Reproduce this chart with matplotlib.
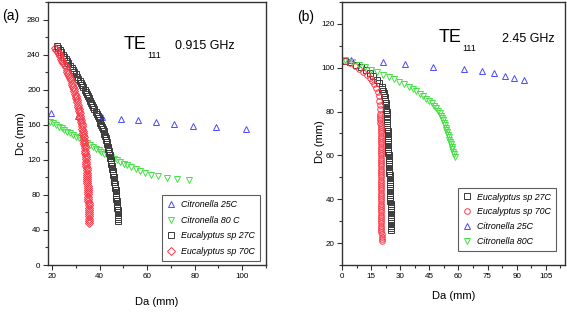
import matplotlib
matplotlib.use("Agg")
import matplotlib.pyplot as plt
from matplotlib import font_manager

# pick a narrow font if we have one
names = set(f.name for f in font_manager.fontManager.ttflist)
if "Liberation Sans Narrow" in names:
    FONT = "Liberation Sans Narrow"
else:
    FONT = "Liberation Sans"
plt.rcParams["font.family"] = [FONT, "DejaVu Sans"]

# ---- panel (a) 0.915 GHz ----
a_cit25_da = [19.5, 31.1, 40.9, 48.9, 56.3, 63.7, 71.2, 79.5, 89.1, 101.4]
a_cit25_dc = [173, 170, 169, 167, 165, 163, 161, 159, 157, 155]

a_cit80_da = [19.2, 20.4, 21.6, 22.8, 24.0, 25.2, 26.4, 27.6, 28.8, 30.0, 31.2, 32.4,
              33.6, 34.8, 36.0, 37.2, 38.4, 39.6, 40.8, 42.0, 43.3, 44.6, 45.9, 47.2,
              48.6, 50.1, 51.7, 53.4, 55.2, 57.1, 59.2, 61.7, 64.6, 68.2, 72.6, 77.7]
a_cit80_dc = [163.5, 161.6, 159.7, 157.8, 155.9, 154.0, 152.1, 150.2, 148.3, 146.4, 144.5, 142.6,
              140.7, 138.8, 136.8, 134.8, 132.8, 130.8, 128.9, 127.1, 125.2, 123.3, 121.4, 119.5,
              117.6, 115.6, 113.6, 111.5, 109.3, 107.2, 105.1, 103.2, 101.5, 99.8, 98.3, 97.0]

a_euc27_dc = [250, 247.5, 245, 242.5, 240, 237.5, 235, 232.5, 230, 227.5, 225, 222.5, 220, 217.5,
              215, 212.5, 210, 207.5, 205, 202.5, 200, 197.5, 195, 192.5, 190, 187.5, 185, 182.5,
              180, 177.5, 175, 172.5, 170, 167.5, 165, 162.5, 160, 157.5, 155, 152.5, 150, 147.5,
              145, 142.5, 140, 137.5, 135, 132.5, 130, 127.5, 125, 122.5, 120, 117.5, 115, 112.5,
              110, 107.5, 105, 102.5, 100, 97.5, 95, 92.5, 90, 87.5, 85, 82.5, 80, 77.5,
              75, 72.5, 70, 67.5, 65, 62.5, 60, 57.5, 55, 52.5, 50]
a_euc27_da = [22.1, 22.7, 23.3, 23.9, 24.5, 25.1, 25.7, 26.3, 26.9, 27.55, 28.2, 28.8, 29.4, 29.95,
              30.5, 31.05, 31.6, 32.15, 32.7, 33.2, 33.7, 34.2, 34.7, 35.15, 35.6, 36.05, 36.5, 36.95,
              37.4, 37.85, 38.3, 38.75, 39.2, 39.6, 40.0, 40.35, 40.7, 41.05, 41.4, 41.7, 42.0, 42.25,
              42.5, 42.75, 43.0, 43.2, 43.4, 43.6, 43.8, 44.0, 44.2, 44.4, 44.6, 44.8, 45.0, 45.15,
              45.3, 45.45, 45.6, 45.75, 45.9, 46.05, 46.2, 46.3, 46.45, 46.6, 46.7, 46.8, 46.9, 47.0,
              47.1, 47.2, 47.3, 47.4, 47.45, 47.55, 47.6, 47.7, 47.75, 47.85, 47.9]

a_euc70_dc = [248, 245.5, 243, 240.5, 238, 235.5, 233, 230.5, 228, 225.5, 223, 220.5, 218, 215.5,
              213, 210.5, 208, 205.5, 203, 200.5, 198, 195.5, 193, 190.5, 188, 185.5, 183, 180.5,
              178, 175.5, 173, 170.5, 168, 165.5, 163, 160.5, 158, 155.5, 153, 150.5, 148, 145.5,
              143, 140.5, 138, 135.5, 133, 130.5, 128, 125.5, 123, 120.5, 118, 115.5, 113, 110.5,
              108, 105.5, 103, 100.5, 98, 95.5, 93, 90.5, 88, 85.5, 83, 80.5, 78, 75.5,
              73, 70.5, 68, 65.5, 63, 60.5, 58, 55.5, 53, 50.5, 48]
a_euc70_da = [21.3, 21.85, 22.4, 22.9, 23.4, 23.9, 24.35, 24.8, 25.25, 25.7, 26.1, 26.5, 26.85, 27.2,
              27.55, 27.9, 28.2, 28.5, 28.8, 29.1, 29.35, 29.6, 29.9, 30.1, 30.35, 30.6, 30.8, 31.0,
              31.2, 31.4, 31.6, 31.8, 31.95, 32.1, 32.3, 32.45, 32.6, 32.75, 32.9, 33.0, 33.15, 33.3,
              33.4, 33.5, 33.6, 33.7, 33.8, 33.9, 34.0, 34.1, 34.15, 34.2, 34.3, 34.4, 34.45, 34.5,
              34.6, 34.65, 34.7, 34.75, 34.8, 34.85, 34.9, 34.95, 35.0, 35.05, 35.1, 35.15, 35.2, 35.25,
              35.3, 35.35, 35.4, 35.4, 35.45, 35.5, 35.55, 35.6, 35.65, 35.7, 35.7]

# ---- panel (b) 2.45 GHz ----
b_euc27_da = [1.4, 4.2, 7.0, 9.6, 12.0, 14.2, 16.1, 17.8, 19.2, 20.3, 20.7, 21.1, 21.4, 21.7,
              21.9, 22.1, 22.25, 22.4, 22.55, 22.7, 22.8, 22.9, 23.0, 23.1, 23.15,
              23.20, 23.24, 23.28, 23.32, 23.36, 23.40, 23.45, 23.50, 23.55, 23.60, 23.65, 23.70,
              23.75, 23.80, 23.85, 23.90, 23.96, 24.01, 24.07, 24.12, 24.18, 24.23, 24.29, 24.34,
              24.40, 24.45, 24.49, 24.53, 24.57, 24.61, 24.65, 24.69, 24.73, 24.77, 24.81, 24.85,
              24.88, 24.91, 24.94, 24.97, 25.00, 25.03, 25.06, 25.09, 25.12, 25.15, 25.19, 25.23,
              25.26, 25.30]
b_euc27_dc = [103.3, 102.4, 101.4, 100.2, 98.9, 97.5, 96.1, 94.6, 93.0, 91.4, 90.5, 89.6, 88.6, 87.7,
              86.7, 85.8, 84.8, 83.8, 82.8, 81.8, 80.8, 79.8, 78.8, 77.8, 76.8,
              75, 74, 73, 72, 71, 70, 69, 68, 67, 66, 65, 64,
              63, 62, 61, 60, 59, 58, 57, 56, 55, 54, 53, 52,
              51, 50, 49, 48, 47, 46, 45, 44, 43, 42, 41, 40,
              39, 38, 37, 36, 35, 34, 33, 32, 31, 30, 29, 28,
              27, 26]

b_euc70_da = [1.4, 4.0, 6.5, 8.8, 10.8, 12.6, 14.2, 15.5, 16.6, 17.5, 18.2, 18.7, 19.1, 19.35,
              19.5, 19.6, 19.65,
              19.70, 19.71, 19.72, 19.73, 19.74, 19.75, 19.76, 19.77, 19.78, 19.79, 19.80, 19.81,
              19.82, 19.83, 19.84, 19.85, 19.86, 19.87, 19.88, 19.89, 19.90, 19.91, 19.92, 19.93,
              19.94, 19.95, 19.96, 19.97, 19.98, 19.99, 20.00, 20.01, 20.02, 20.03, 20.04, 20.05,
              20.06, 20.07, 20.08, 20.09, 20.10, 20.11, 20.12, 20.13, 20.14, 20.15, 20.16, 20.17,
              20.18, 20.19, 20.20, 20.22, 20.24, 20.26, 20.27, 20.28, 20.30]
b_euc70_dc = [103.3, 102.2, 100.8, 99.4, 98.0, 96.6, 95.2, 93.8, 92.4, 90.8, 89.0, 87.0, 85.0, 83.0,
              81.0, 79.0, 78.0,
              77, 76, 75, 74, 73, 72, 71, 70, 69, 68, 67, 66,
              65, 64, 63, 62, 61, 60, 59, 58, 57, 56, 55, 54,
              53, 52, 51, 50, 49, 48, 47, 46, 45, 44, 43, 42,
              41, 40, 39, 38, 37, 36, 35, 34, 33, 32, 31, 30,
              29, 28, 27, 26, 25, 24, 23, 22, 21]

b_cit25_da = [4.5, 21.2, 32.5, 47.0, 62.7, 72.0, 78.5, 84.0, 88.8, 93.6]
b_cit25_dc = [103.6, 102.7, 101.6, 100.5, 99.5, 98.6, 97.5, 96.4, 95.5, 94.5]

b_cit80_dc = [103.5, 102.4, 101.3, 100.2, 99.1, 98.0, 96.9, 95.8, 94.7, 93.6, 92.5, 91.4, 90.3, 89.2,
              88.1, 87.0, 85.9, 84.8, 83.7, 82.6, 81.5, 80.4, 79.3, 78.2, 77.1, 76.0, 74.9, 73.8,
              72.7, 71.6, 70.5, 69.4, 68.3, 67.2, 66.1, 65.0, 63.9, 62.8, 61.7, 60.6, 59.5]
b_cit80_da = [1.4, 5.0, 8.5, 11.8, 15.0, 18.1, 21.1, 24.0, 26.75, 29.4, 31.9, 34.3, 36.4, 38.3,
              40.1, 41.8, 43.4, 44.9, 46.2, 47.4, 48.5, 49.5, 50.2, 50.8, 51.4, 51.9, 52.4, 52.9,
              53.3, 53.7, 54.1, 54.5, 54.9, 55.3, 55.7, 56.1, 56.5, 56.9, 57.4, 57.9, 58.4]

BLUE = "#4a4aff"
GREEN = "#45e045"
BLACK = "#3a3a3a"
RED = "#ff3a4a"
SPINE = "#333333"

fig = plt.figure(figsize=(5.67, 3.12), dpi=100)
ax1 = fig.add_axes([48 / 567, 1 - 265 / 312, 218 / 567, 263 / 312])
ax2 = fig.add_axes([342.3 / 567, 1 - 265 / 312, 222.7 / 567, 263 / 312])

mk = dict(ls="none", mfc="none", ms=4.0, mew=0.7)


def style(ax):
    for s in ax.spines.values():
        s.set_color(SPINE)
        s.set_linewidth(1.0)
    ax.tick_params(which="both", direction="out", colors=SPINE, labelsize=5.8,
                   labelcolor="black", top=False, right=False, pad=2, width=0.8)
    ax.tick_params(which="major", length=3.5)
    ax.tick_params(which="minor", length=2)


def add_te(ax, x, y, freq, fx):
    te = ax.text(x, y, "TE", fontsize=13, ha="left", va="baseline")
    ax.annotate("111", xy=(1, 0), xycoords=te, xytext=(0.5, -3.5),
                textcoords="offset points", fontsize=6.5, ha="left", va="baseline")
    ax.text(fx, y, freq, fontsize=9, ha="left", va="baseline")


# (a)
ax1.plot(a_cit25_da, a_cit25_dc, marker="^", mec=BLUE, label="Citronella 25C", **mk)
ax1.plot(a_cit80_da, a_cit80_dc, marker="v", mec=GREEN, label="Citronella 80 C", **mk)
ax1.plot(a_euc27_da, a_euc27_dc, marker="s", mec=BLACK, label="Eucalyptus sp 27C", **mk)
ax1.plot(a_euc70_da, a_euc70_dc, marker="D", mec=RED, label="Eucalyptus sp 70C", **mk)
ax1.set_xlim(18.3, 110)
ax1.set_ylim(0, 300)
ax1.set_xticks([20, 40, 60, 80, 100])
ax1.set_xticks([30, 50, 70, 90, 110], minor=True)
ax1.set_yticks([0, 40, 80, 120, 160, 200, 240, 280])
ax1.set_yticks([20, 60, 100, 140, 180, 220, 260, 300], minor=True)
style(ax1)
ax1.set_xlabel("Da (mm)", fontsize=8)
ax1.set_ylabel("Dc (mm)", fontsize=8)
ax1.xaxis.set_label_coords(0.5, -0.122)
ax1.yaxis.set_label_coords(-0.1, 0.5)
add_te(ax1, 50, 246, "0.915 GHz", 71.8)
leg1 = ax1.legend(loc="lower right", bbox_to_anchor=(0.972, 0.015), borderaxespad=0,
                  prop={"style": "italic", "size": 6.4}, frameon=True, fancybox=False,
                  edgecolor=SPINE, handlelength=0.9, handletextpad=0.7,
                  borderpad=0.55, labelspacing=0.75, numpoints=1)
leg1.get_frame().set_linewidth(0.8)
fig.text(2 / 567, 1 - 20 / 312, "(a)", fontsize=10, family="Liberation Sans")

# (b)
ax2.plot(b_euc27_da, b_euc27_dc, marker="s", mec=BLACK, label="Eucalyptus sp 27C", **mk)
ax2.plot(b_euc70_da, b_euc70_dc, marker="o", mec=RED, label="Eucalyptus sp 70C", **mk)
ax2.plot(b_cit25_da, b_cit25_dc, marker="^", mec=BLUE, label="Citronella 25C", **mk)
ax2.plot(b_cit80_da, b_cit80_dc, marker="v", mec=GREEN, label="Citronella 80C", **mk)
ax2.set_xlim(0, 115)
ax2.set_ylim(10, 130)
ax2.set_xticks([0, 15, 30, 45, 60, 75, 90, 105])
ax2.set_xticks([7.5, 22.5, 37.5, 52.5, 67.5, 82.5, 97.5, 112.5], minor=True)
ax2.set_yticks([20, 40, 60, 80, 100, 120])
ax2.set_yticks([10, 30, 50, 70, 90, 110, 130], minor=True)
style(ax2)
ax2.set_xlabel("Da (mm)", fontsize=8)
ax2.set_ylabel("Dc (mm)", fontsize=8)
ax2.xaxis.set_label_coords(0.5, -0.099)
ax2.yaxis.set_label_coords(-0.078, 0.47)
add_te(ax2, 49.9, 111.8, "2.45 GHz", 82.4)
leg2 = ax2.legend(loc="lower right", bbox_to_anchor=(0.958, 0.054), borderaxespad=0,
                  prop={"style": "italic", "size": 6.4}, frameon=True, fancybox=False,
                  edgecolor=SPINE, handlelength=0.9, handletextpad=0.7,
                  borderpad=0.55, labelspacing=0.65, numpoints=1)
leg2.get_frame().set_linewidth(0.8)
fig.text(297 / 567, 1 - 21 / 312, "(b)", fontsize=10, family="Liberation Sans")

fig.savefig("out.png", dpi=100)
